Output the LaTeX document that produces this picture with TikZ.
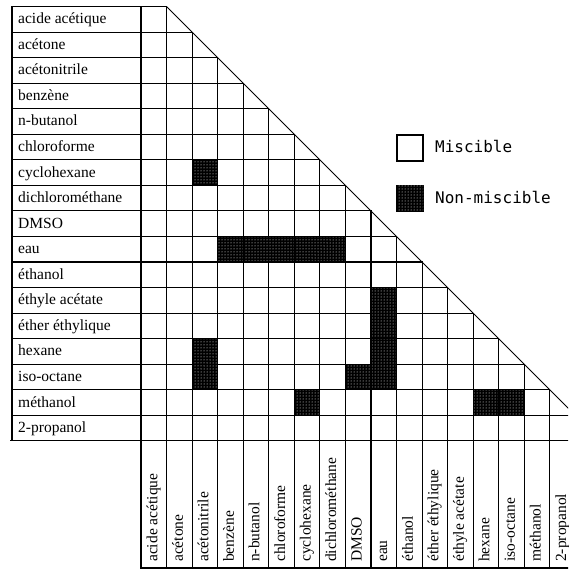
\documentclass[tikz,border=0pt]{standalone}
\usepackage{fontspec}
\setmainfont{Liberation Serif}
\newfontfamily\legendfont{DejaVu Sans Mono}
\usetikzlibrary{patterns}

\begin{document}
\begin{tikzpicture}[x=1pt,y=-1pt,
  grid/.style={line width=1.1pt, line cap=rect},
  diag/.style={line width=0.8pt},
  immisc/.style={fill=black, postaction={pattern=dots, pattern color=white}},
  rowlabel/.style={anchor=base west, inner sep=0pt, font=\fontsize{15.5}{17}\selectfont},
  collabel/.style={anchor=base west, inner sep=0pt, rotate=90, font=\fontsize{15.5}{17}\selectfont},
  legendbox/.style={draw, line width=1.1pt, minimum size=26pt, inner sep=0pt},
  legendtext/.style={anchor=base west, inner sep=0pt, font=\legendfont\fontsize{16}{18}\selectfont}]
\def\X{141}\def\Y{6.5}\def\W{25.55}
\useasboundingbox (0,0) rectangle (568,570);
\clip (0,0) rectangle (568,570);
\fill[white] (0,0) rectangle (568,570);

% non-miscible pairs: row/column
\foreach \r/\c in {7/3,10/4,10/5,10/6,10/7,10/8,12/10,13/10,14/10,15/9,15/10,14/3,15/3,16/7,16/14,16/15}
  \path[immisc] ({\X+(\c-1)*\W},{\Y+(\r-1)*\W}) rectangle ++(\W,\W);

% row lines, each stopping at the diagonal
\foreach \i in {0,...,16}
  \draw[grid] (12,{\Y+\i*\W}) -- ({\X+(\i+1)*\W},{\Y+\i*\W});
\draw[grid] (10.5,{\Y+17*\W}) -- (590,{\Y+17*\W});
% left border
\draw[grid] (12,\Y) -- (12,{\Y+17*\W});
% column lines, each starting at the diagonal
\draw[grid] (\X,\Y) -- (\X,568);
\foreach \k in {1,...,17}
  \draw[grid] ({\X+\k*\W},{\Y+(\k-1)*\W}) -- ({\X+\k*\W},568);
% bottom border under the column names
\draw[grid] (\X,568) -- (590,568);
% diagonal
\draw[diag] ({\X+\W},\Y) -- ({\X+18*\W},{\Y+17*\W});

% row names
\foreach [count=\i] \n in {acide acétique, acétone, acétonitrile, benzène, n-butanol,
    chloroforme, cyclohexane, dichlorométhane, DMSO, eau, éthanol, éthyle acétate,
    éther éthylique, hexane, iso-octane, méthanol, 2-propanol}
  \node[rowlabel] (r\i) at (18,{\Y+(\i-0.5)*\W+4.5}) {\n};

% column names
\foreach [count=\j] \n in {acide acétique, acétone, acétonitrile, benzène, n-butanol,
    chloroforme, cyclohexane, dichlorométhane, DMSO, eau, éthanol, éther éthylique,
    éthyle acétate, hexane, iso-octane, méthanol, 2-propanol}
  \node[collabel] (c\j) at ({\X+(\j-0.5)*\W+3.5},562) {\n};

% legend
\node[legendbox] (mbox) at (410,148) {};
\node[legendtext] (mtext) at (435,152.5) {Miscible};
\node[legendbox, immisc] (nbox) at (410,198.7) {};
\node[legendtext] (ntext) at (435,203.2) {Non-miscible};
\end{tikzpicture}
\end{document}
